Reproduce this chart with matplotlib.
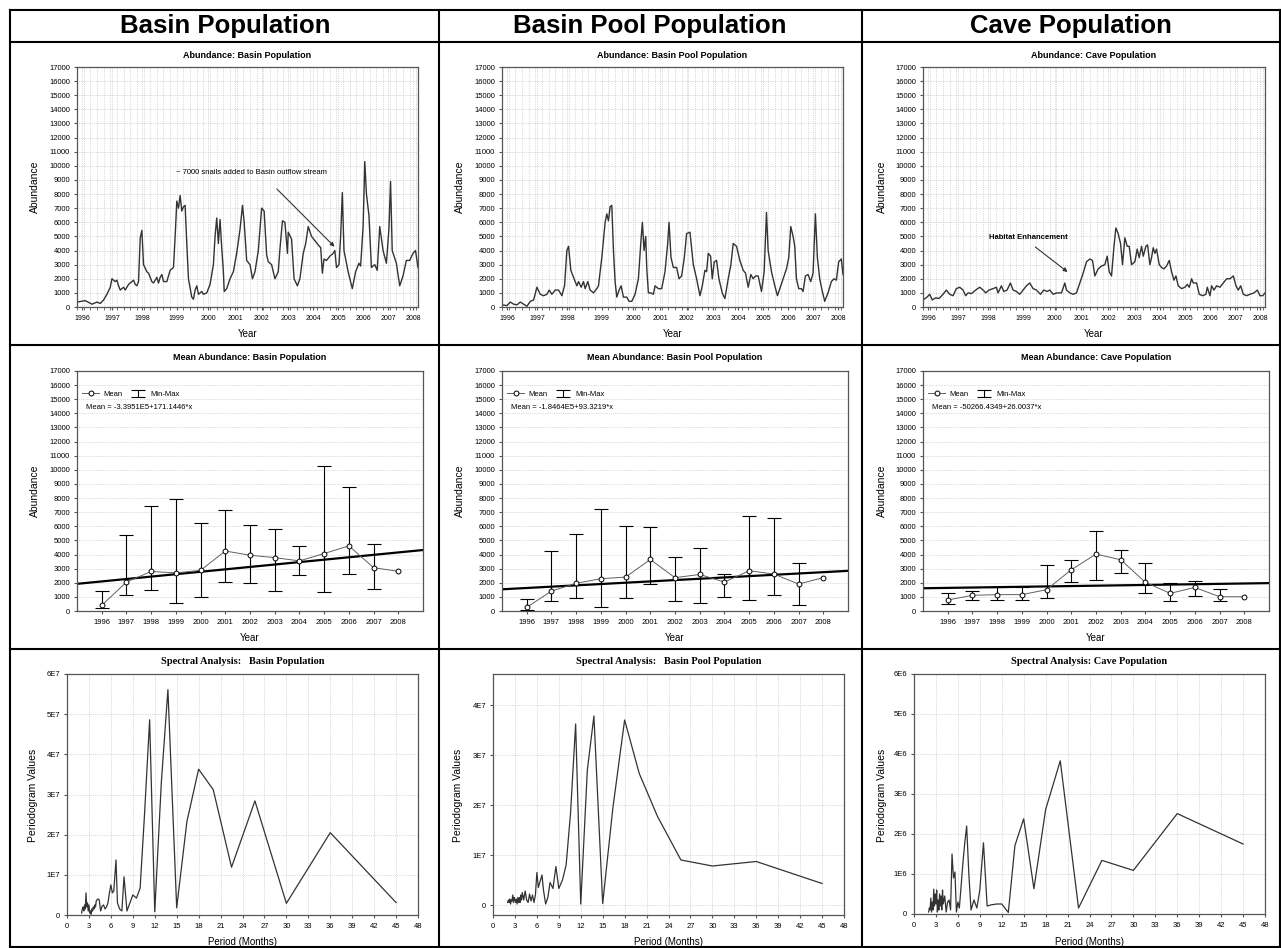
import matplotlib
matplotlib.use('Agg')
import matplotlib.pyplot as plt
from matplotlib.lines import Line2D
from matplotlib.ticker import MultipleLocator

plt.rcParams['font.family'] = ['Liberation Sans', 'DejaVu Sans']

W, H = 1281, 948

# ---------------- Zeitreihen (t = Messpunkt-Position entlang der Achse) ----------------
year_tick_t = [3, 21, 39, 60, 79, 95, 111, 127, 142, 157, 172, 187, 202]
year_labels = ['1996', '1997', '1998', '1999', '2000', '2001', '2002',
               '2003', '2004', '2005', '2006', '2007', '2008']

basin_series = [(0, 350), (5, 450), (9, 200), (12, 350), (14, 250), (16, 500), (18, 900), (20, 1400),
                (21, 2000), (23, 1800), (24, 1900), (25, 1500), (26, 1200), (28, 1400), (29, 1200),
                (31, 1600), (33, 1800), (34, 1900), (35, 1600), (36, 1500), (37, 1800), (38, 4900),
                (39, 5430), (40, 3000), (42, 2500), (43, 2400), (45, 1800), (46, 1700), (48, 2100),
                (49, 1700), (50, 2100), (51, 2300), (52, 1800), (54, 1800), (56, 2600), (58, 2800),
                (59, 5000), (60, 7500), (61, 7000), (62, 7900), (63, 6800), (64, 7100), (65, 7200),
                (66, 4500), (67, 2000), (69, 700), (70, 550), (71, 1200), (72, 1500), (73, 900),
                (75, 1100), (76, 900), (78, 1000), (80, 1600), (82, 3000), (83, 5000), (84, 6300),
                (85, 4500), (86, 6200), (87, 4200), (88, 2500), (88.5, 1100), (90, 1300), (92, 2000),
                (94, 2500), (96, 3800), (98, 5500), (99.5, 7200), (100.5, 6000), (102, 3300),
                (104, 3000), (105.5, 2000), (107, 2500), (109, 4000), (111, 7000), (112.5, 6800),
                (114, 3700), (115, 3200), (117, 3000), (119, 2000), (121, 2500), (122, 4100),
                (123.5, 6100), (125, 6000), (126.5, 3800), (127, 5300), (129, 4800), (130.5, 2000),
                (132.5, 1500), (134, 2000), (136, 3800), (137.5, 4500), (139, 5700), (141, 5000),
                (143, 4700), (145, 4400), (146.5, 4200), (147.5, 2400), (148.5, 3400), (150, 3300),
                (152, 3600), (154, 3800), (155, 4000), (156, 2800), (157.5, 3000), (158.5, 5000),
                (159.5, 8100), (160.5, 4000), (163, 2500), (165.5, 1300), (167.5, 2500), (169.5, 3100),
                (170.5, 2900), (172, 5700), (173, 10300), (174, 8000), (175.5, 6500), (177, 2800),
                (179, 3000), (180.5, 2600), (182, 5700), (184, 4000), (186, 3100), (187.5, 5500),
                (188.5, 8900), (189.5, 4000), (192, 3100), (194, 1500), (196, 2200), (198, 3300),
                (200, 3300), (202, 3800), (203.5, 4000), (205, 2800)]

pool_series = [(0, 150), (3, 100), (5, 350), (7, 200), (9, 150), (11, 350), (13, 200), (15, 50),
               (17, 400), (19, 500), (21, 1400), (23, 900), (25, 800), (27, 900), (28.4, 1200),
               (30, 900), (32, 1200), (34, 1200), (36, 800), (37.6, 1500), (39, 4000), (40, 4300),
               (41.4, 2600), (43, 2100), (45, 1500), (46, 1800), (47.6, 1400), (49, 1800), (50, 1300),
               (51.6, 1800), (53, 1200), (55, 1000), (57, 1300), (58, 1500), (60, 3500), (62, 6000),
               (63, 6600), (64, 6100), (65, 7100), (66, 7200), (67, 4000), (68, 1800), (69, 700),
               (70.4, 1200), (71.6, 1500), (73, 700), (75, 700), (76.4, 400), (78, 400), (80, 900),
               (82, 2000), (83.6, 4800), (84.4, 6000), (85.4, 4000), (86.4, 5000), (87, 2800),
               (88, 1000), (89.6, 1000), (91, 900), (92, 1500), (94, 1300), (96, 1300), (98, 2500),
               (99.6, 4500), (100.4, 6000), (101.6, 3500), (103, 2800), (105, 2800), (106.4, 2000),
               (108, 2200), (109.6, 3500), (111, 5200), (113, 5300), (115, 3000), (117, 2000),
               (119, 800), (120.4, 1500), (122, 2600), (123, 2500), (124, 3800), (125.4, 3600),
               (126.4, 2000), (127.6, 3200), (129, 3300), (130.4, 2000), (132.4, 1000), (134, 600),
               (136, 2000), (137.6, 3000), (139, 4500), (141, 4300), (143, 3300), (145, 2600),
               (146.4, 2400), (148, 1400), (149.6, 2300), (151, 2000), (152.4, 2200), (154, 2200),
               (156, 1100), (157.6, 2500), (159, 6700), (160, 4000), (162, 2500), (164, 1500),
               (165.6, 800), (167.6, 1500), (169, 2000), (171, 2700), (172.4, 3500), (173.6, 5700),
               (175, 5000), (176, 4300), (177, 2000), (178.4, 1300), (180, 1300), (181, 1100),
               (182.4, 2200), (184, 2300), (185.6, 1800), (187, 2400), (188.4, 6600), (189.6, 3500),
               (191, 2000), (192.4, 1200), (194, 400), (196, 1000), (198, 1800), (199.6, 2000),
               (201, 1900), (202.4, 3200), (204, 3400), (205, 2300)]

cave_series = [(0, 500), (2.4, 700), (4, 900), (5.6, 500), (7.6, 650), (9.6, 600), (12, 900), (14, 1200),
               (16, 900), (18, 800), (20, 1300), (22, 1400), (24, 1200), (25.6, 800), (27, 1000),
               (29, 950), (31.6, 1200), (34, 1400), (36, 1200), (37.6, 1000), (39.6, 1200), (42, 1300),
               (44, 1400), (45, 1000), (47, 1500), (48.4, 1100), (50.4, 1200), (52.4, 1700), (54, 1200),
               (56, 1100), (58, 900), (60, 1200), (62, 1500), (64, 1700), (66, 1300), (68, 1200),
               (70.4, 900), (72.4, 1200), (74.4, 1100), (76, 1200), (78, 900), (80, 1000), (83, 1000),
               (85, 1700), (86, 1200), (88, 1000), (90, 900), (92, 1000), (94, 1700), (96, 2400),
               (98, 3200), (100, 3400), (101.6, 3300), (103, 2200), (105, 2700), (107, 2900),
               (109, 3000), (110.4, 3600), (111.6, 2500), (113, 2200), (114.4, 4200), (115.6, 5600),
               (117, 5200), (118.4, 4500), (119.6, 3000), (121, 4900), (122.4, 4300), (123.6, 4300),
               (125, 3000), (127, 3200), (128.4, 4100), (129.6, 3500), (131, 4300), (132, 3600),
               (133.6, 4300), (134.6, 4400), (136, 3000), (137, 3500), (138, 4200), (139, 3800),
               (140, 4100), (141.6, 3000), (143, 2800), (144.4, 2700), (146, 2900), (147.6, 3300),
               (149, 2500), (150.4, 1900), (151.6, 2200), (153, 1500), (155, 1300), (157, 1400),
               (158.4, 1600), (159.6, 1400), (161, 2000), (162, 1700), (164, 1700), (165.6, 900),
               (167.6, 800), (169.6, 900), (170.4, 1400), (172, 800), (173, 1500), (174.4, 1200),
               (176, 1500), (178, 1400), (180, 1700), (182, 2000), (184, 2000), (186, 2200),
               (187.6, 1500), (189, 1200), (190.4, 1500), (192, 900), (194, 800), (196, 900),
               (198.4, 1000), (200.4, 1200), (202, 800), (203.6, 800), (205, 1000)]

# ---------------- Jahresmittel ----------------
years = [1996, 1997, 1998, 1999, 2000, 2001, 2002, 2003, 2004, 2005, 2006, 2007, 2008]
basin_mean = [400, 2050, 2800, 2700, 2880, 4250, 3950, 3780, 3550, 4070, 4610, 3070, 2810]
basin_min = [200, 1160, 1500, 590, 1020, 2060, 1990, 1440, 2530, 1350, 2650, 1580]
basin_max = [1440, 5400, 7450, 7900, 6260, 7140, 6120, 5820, 4590, 10300, 8790, 4750]
pool_mean = [260, 1410, 1960, 2290, 2400, 3650, 2360, 2590, 2050, 2850, 2620, 1910, 2360]
pool_min = [70, 730, 940, 260, 900, 1890, 730, 590, 1010, 780, 1130, 420]
pool_max = [870, 4270, 5450, 7190, 6010, 5940, 3840, 4480, 2620, 6740, 6560, 3400]
cave_mean = [780, 1110, 1160, 1160, 1510, 2920, 4030, 3630, 2030, 1250, 1670, 1010, 1010]
cave_min = [500, 780, 780, 800, 900, 2050, 2170, 2660, 1250, 730, 1040, 710]
cave_max = [1250, 1440, 1670, 1700, 3230, 3630, 5640, 4340, 3420, 1960, 2150, 1560]
basin_fit = (-3.3951e5, 171.1446)
pool_fit = (-1.8464e5, 93.3219)
cave_fit = (-50266.4349, 26.0037)

# ---------------- Periodogramme ----------------
period_months = [2.0, 2.1, 2.2, 2.3, 2.4, 2.5, 2.6, 2.7, 2.8, 2.9, 3.0, 3.1, 3.2, 3.3, 3.4, 3.5, 3.6,
                 3.7, 3.8, 3.9, 4.0, 4.2, 4.4, 4.6, 4.8, 5.0, 5.2, 5.4, 5.6, 5.8, 6.0, 6.2, 6.4, 6.7,
                 6.9, 7.2, 7.5, 7.8, 8.2, 8.6, 9.0, 9.5, 10.0, 10.6, 11.3, 12.0, 12.9, 13.8, 15.0,
                 16.4, 18.0, 20.0, 22.5, 25.7, 30.0, 36.0, 45.0]
basin_pgram_e7 = [0.05, 0.15, 0.2, 0.1, 0.25, 0.15, 0.55, 0.2, 0.3, 0.1, 0.25, 0.05, 0.1, 0.02, 0.15,
                  0.1, 0.2, 0.15, 0.25, 0.2, 0.35, 0.4, 0.38, 0.1, 0.22, 0.25, 0.15, 0.2, 0.3, 0.55,
                  0.75, 0.55, 0.6, 1.37, 0.3, 0.15, 0.1, 0.95, 0.1, 0.3, 0.5, 0.42, 0.67, 2.5, 4.86,
                  0.08, 3.3, 5.61, 0.18, 2.33, 3.63, 3.12, 1.19, 2.84, 0.29, 2.05, 0.31]
pool_pgram_e7 = [0.05, 0.1, 0.05, 0.12, 0.02, 0.1, 0.08, 0.2, 0.05, 0.15, 0.1, 0.05, 0.12, 0.02, 0.15,
                 0.05, 0.15, 0.05, 0.2, 0.1, 0.25, 0.1, 0.28, 0.1, 0.05, 0.22, 0.08, 0.2, 0.05, 0.2,
                 0.65, 0.35, 0.45, 0.6, 0.3, 0.02, 0.15, 0.45, 0.33, 0.77, 0.33, 0.5, 0.8, 1.83, 3.62,
                 0.02, 2.7, 3.78, 0.03, 1.95, 3.7, 2.63, 1.77, 0.9, 0.78, 0.87, 0.43]
cave_pgram_e6 = [0.05, 0.15, 0.1, 0.4, 0.05, 0.3, 0.1, 0.62, 0.2, 0.5, 0.25, 0.6, 0.05, 0.35, 0.1,
                 0.5, 0.2, 0.45, 0.1, 0.6, 0.25, 0.45, 0.05, 0.3, 0.35, 0.1, 1.5, 0.9, 1.05, 0.05,
                 0.3, 0.15, 0.6, 1.3, 1.7, 2.2, 1.0, 0.1, 0.35, 0.15, 0.6, 1.78, 0.2, 0.23, 0.25,
                 0.25, 0.04, 1.71, 2.38, 0.63, 2.61, 3.83, 0.15, 1.34, 1.09, 2.51, 1.75]

LINE = '#333333'
FRAME = '#555555'
GRID = '#b8b8b8'


def add_ax(fig, x0, y0, x1, y1):
    # Achse in Pixel-Koordinaten (oben links = 0,0)
    ax = fig.add_axes([x0 / W, 1 - y1 / H, (x1 - x0) / W, (y1 - y0) / H])
    for s in ax.spines.values():
        s.set_color(FRAME)
        s.set_linewidth(0.9)
    return ax


def ftext(fig, x, y, s, **kw):
    fig.text(x / W, 1 - y / H, s, ha='center', va='center', **kw)


fig = plt.figure(figsize=(W / 100, H / 100), dpi=100)

# Tabellenrahmen
def hline(y, x0=10, x1=1280):
    fig.add_artist(Line2D([x0 / W, x1 / W], [1 - y / H, 1 - y / H], color='k', lw=1.5))

def vline(x, y0=10, y1=947):
    fig.add_artist(Line2D([x / W, x / W], [1 - y0 / H, 1 - y1 / H], color='k', lw=1.5))

for y in [10, 42, 345, 649, 947]:
    hline(y)
for x in [10, 439, 862, 1280]:
    vline(x)

headers = ['Basin Population', 'Basin Pool Population', 'Cave Population']
header_x = [225, 650, 1071]
for hx, h in zip(header_x, headers):
    ftext(fig, hx, 26, h, fontsize=18.5, fontweight='bold')

# ---------------- Zeile 1: Abundanz ----------------
row1_boxes = [(77, 67, 418, 307), (502, 67, 843, 307), (923, 67, 1265, 307)]
row1_ylab_x = [35, 460, 882]
series_list = [basin_series, pool_series, cave_series]
for i, (box, ser) in enumerate(zip(row1_boxes, series_list)):
    ax = add_ax(fig, *box)
    t, n = zip(*ser)
    ax.plot(t, n, color=LINE, lw=1.0)
    ax.set_xlim(0, 205)
    ax.set_ylim(0, 17000)
    ax.set_yticks(range(0, 17001, 1000))
    ax.set_xticks(year_tick_t)
    ax.set_xticklabels(year_labels)
    ax.xaxis.set_minor_locator(MultipleLocator(4))
    ax.grid(True, which='both', color=GRID, lw=0.5, ls=':')
    ax.tick_params(axis='y', labelsize=5.5, length=2, pad=3, color=FRAME)
    ax.tick_params(axis='x', labelsize=5, length=2, pad=4, color=FRAME)
    ax.tick_params(axis='x', which='minor', length=2, color=FRAME)
    ax.set_axisbelow(True)
    cx = (box[0] + box[2]) / 2
    ftext(fig, cx, 55, ['Abundance: Basin Population', 'Abundance: Basin Pool Population',
                        'Abundance: Cave Population'][i], fontsize=6.5, fontweight='bold')
    ftext(fig, cx, 334, 'Year', fontsize=7)
    ftext(fig, row1_ylab_x[i], 187, 'Abundance', fontsize=7.5, rotation=90)
    if i == 0:
        ax.annotate('', xy=(156, 4130), xytext=(119, 8500),
                    arrowprops=dict(arrowstyle='-|>', color=LINE, lw=0.8, mutation_scale=6))
        ax.text(105, 9560, '~ 7000 snails added to Basin outflow stream', fontsize=5.5,
                ha='center', va='center')
    if i == 2:
        ax.annotate('', xy=(88, 2360), xytext=(66, 4370),
                    arrowprops=dict(arrowstyle='-|>', color=LINE, lw=0.8, mutation_scale=6))
        ax.text(63, 4910, 'Habitat Enhancement', fontsize=5.5, fontweight='bold',
                ha='center', va='center')

# ---------------- Zeile 2: Jahresmittel ----------------
row2_boxes = [(77, 371, 423, 611), (502, 371, 848, 611), (923, 371, 1269, 611)]
means = [basin_mean, pool_mean, cave_mean]
mins = [basin_min, pool_min, cave_min]
maxs = [basin_max, pool_max, cave_max]
fits = [basin_fit, pool_fit, cave_fit]
fit_txt = ['Mean = -3.3951E5+171.1446*x', 'Mean = -1.8464E5+93.3219*x',
           'Mean = -50266.4349+26.0037*x']
titles2 = ['Mean Abundance: Basin Population', 'Mean Abundance: Basin Pool Population',
           'Mean Abundance: Cave Population']
for i, box in enumerate(row2_boxes):
    ax = add_ax(fig, *box)
    m = means[i]
    lo = [m[k] - mins[i][k] for k in range(len(mins[i]))]
    hi = [maxs[i][k] - m[k] for k in range(len(maxs[i]))]
    a, b = fits[i]
    ax.plot([1995, 2009], [a + b * 1995, a + b * 2009], color='k', lw=1.6, zorder=2)
    eb = ax.errorbar(years[:12], m[:12], yerr=[lo, hi], fmt='none', ecolor='k', elinewidth=0.8,
                     capsize=4.8, capthick=0.8, zorder=3, label='Min-Max')
    ln, = ax.plot(years, m, color='#606060', lw=0.7, marker='o', ms=3.5, mfc='white',
                  mec='k', mew=0.7, zorder=4, label='Mean')
    ax.set_xlim(1995, 2009)
    ax.set_ylim(0, 17000)
    ax.set_yticks(range(0, 17001, 1000))
    ax.set_xticks(years)
    ax.grid(True, axis='y', color=GRID, lw=0.5, ls=':')
    ax.tick_params(axis='y', labelsize=5.5, length=2, pad=3, color=FRAME)
    ax.tick_params(axis='x', labelsize=5.5, length=2, pad=4, color=FRAME)
    ax.set_axisbelow(True)
    ax.legend(handles=[ln, eb], labels=['Mean', 'Min-Max'], loc='upper left', ncol=2,
              frameon=False, fontsize=5.5, handlelength=2.2, handletextpad=0.5,
              columnspacing=1.0, bbox_to_anchor=(0.0, 0.94), borderaxespad=0.3)
    ax.text(0.025, 0.846, fit_txt[i], transform=ax.transAxes, fontsize=5.5, va='center')
    cx = (box[0] + box[2]) / 2
    ftext(fig, cx, 358, titles2[i], fontsize=6.5, fontweight='bold')
    ftext(fig, cx, 638, 'Year', fontsize=7)
    ftext(fig, row1_ylab_x[i], 491, 'Abundance', fontsize=7.5, rotation=90)

# ---------------- Zeile 3: Spektralanalyse ----------------
row3_boxes = [(67, 674, 418, 915), (493, 674, 844, 915), (914, 674, 1265, 914)]
row3_ylab_x = [33, 458, 882]
pgrams = [[v * 1e7 for v in basin_pgram_e7], [v * 1e7 for v in pool_pgram_e7],
          [v * 1e6 for v in cave_pgram_e6]]
ylims = [(0, 6e7), (-0.2e7, 4.62e7), (0, 6e6)]
yticks = [[k * 1e7 for k in range(7)], [k * 1e7 for k in range(5)], [k * 1e6 for k in range(7)]]
ylabels = [['0'] + [f'{k}E7' for k in range(1, 7)], ['0'] + [f'{k}E7' for k in range(1, 5)],
           ['0'] + [f'{k}E6' for k in range(1, 7)]]
titles3 = ['Spectral Analysis:   Basin Population', 'Spectral Analysis:   Basin Pool Population',
           'Spectral Analysis: Cave Population']
for i, box in enumerate(row3_boxes):
    ax = add_ax(fig, *box)
    ax.plot(period_months, pgrams[i], color=LINE, lw=0.9)
    ax.set_xlim(0, 48)
    ax.set_ylim(*ylims[i])
    ax.set_xticks(range(0, 49, 3))
    ax.set_yticks(yticks[i])
    ax.set_yticklabels(ylabels[i])
    ax.grid(True, color=GRID, lw=0.5, ls=':')
    ax.tick_params(axis='y', labelsize=5.5, length=2, pad=3, color=FRAME)
    ax.tick_params(axis='x', labelsize=5.5, length=2, pad=4, color=FRAME)
    ax.set_axisbelow(True)
    cx = (box[0] + box[2]) / 2
    ftext(fig, cx, 662, titles3[i], fontsize=7.5, fontweight='bold',
          family=['Liberation Serif', 'DejaVu Serif'])
    ftext(fig, cx, 942, 'Period (Months)', fontsize=7)
    ftext(fig, row3_ylab_x[i], 795, 'Periodogram Values', fontsize=7.5, rotation=90)

fig.savefig('out.png', dpi=100)
